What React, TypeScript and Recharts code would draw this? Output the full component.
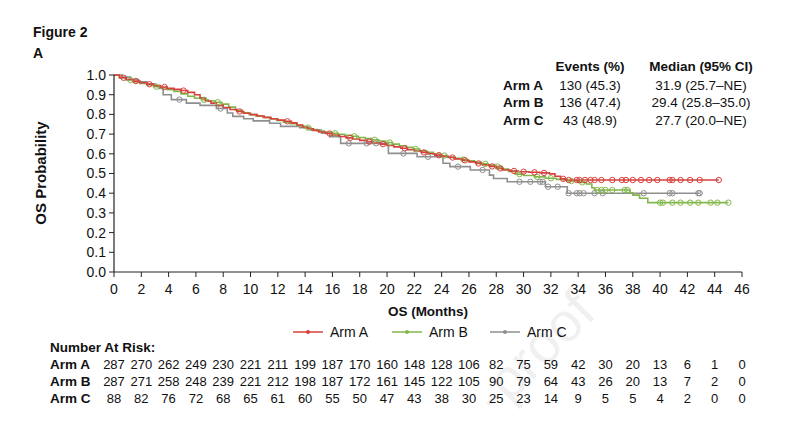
import { ComposedChart, Line, XAxis, YAxis } from "recharts";

const FONT = "'Liberation Sans', Arial, Helvetica, sans-serif";
const RED = "#d7403c";
const GREEN = "#82b74b";
const GRAY = "#8f8f8f";
const AXIS = "#222";

const xTicks = [0, 2, 4, 6, 8, 10, 12, 14, 16, 18, 20, 22, 24, 26, 28, 30, 32, 34, 36, 38, 40, 42, 44, 46];
const yTicks = [0, 0.1, 0.2, 0.3, 0.4, 0.5, 0.6, 0.7, 0.8, 0.9, 1.0];

// number at risk, one value per x tick
const riskA = [287, 270, 262, 249, 230, 221, 211, 199, 187, 170, 160, 148, 128, 106, 82, 75, 59, 42, 30, 20, 13, 6, 1, 0];
const riskB = [287, 271, 258, 248, 239, 221, 212, 198, 187, 172, 161, 145, 122, 105, 90, 79, 64, 43, 26, 20, 13, 7, 2, 0];
const riskC = [88, 82, 76, 72, 68, 65, 61, 60, 55, 50, 47, 43, 38, 30, 25, 23, 14, 9, 5, 5, 4, 2, 0, 0];

const arms = ["Arm A", "Arm B", "Arm C"];
const events = ["130 (45.3)", "136 (47.4)", "43 (48.9)"];
const medians = ["31.9 (25.7–NE)", "29.4 (25.8–35.0)", "27.7 (20.0–NE)"];

// KM steps [month, survival]
const armASteps: [number, number][] = [
  [0, 1], [0.4, 0.986], [0.9, 0.977], [1.4, 0.969], [1.9, 0.961], [2.4, 0.953], [2.9, 0.946], [3.4, 0.939],
  [3.9, 0.932], [4.4, 0.927], [4.9, 0.921], [5.4, 0.912], [5.9, 0.9], [6.3, 0.884], [6.7, 0.868], [7.1, 0.857],
  [7.5, 0.846], [8.0, 0.835], [8.5, 0.825], [9.0, 0.815], [9.5, 0.806], [10.0, 0.799], [10.5, 0.792], [11.0, 0.785],
  [11.5, 0.778], [12.0, 0.771], [12.5, 0.765], [13.0, 0.757], [13.4, 0.746], [13.8, 0.736], [14.2, 0.727], [14.6, 0.719],
  [15.0, 0.711], [15.5, 0.703], [16.0, 0.695], [16.5, 0.688], [17.0, 0.681], [17.5, 0.675], [18.0, 0.668], [18.5, 0.662],
  [19.0, 0.656], [19.5, 0.649], [20.0, 0.642], [20.5, 0.635], [21.0, 0.628], [21.5, 0.621], [22.0, 0.614], [22.5, 0.607],
  [23.0, 0.6], [23.5, 0.593], [24.0, 0.587], [24.5, 0.581], [25.0, 0.574], [25.5, 0.567], [26.0, 0.559], [26.5, 0.551],
  [27.0, 0.544], [27.5, 0.536], [28.0, 0.526], [28.5, 0.518], [29.0, 0.513], [29.6, 0.509], [30.4, 0.506], [31.2, 0.503],
  [31.9, 0.498], [32.3, 0.486], [32.7, 0.473], [33.0, 0.467],
];
const armACensor = [
  0.7, 1.6, 2.6, 3.7, 5.1, 9.2, 12.7, 15.8, 17.3, 18.7, 19.7, 21.3, 22.7, 23.8, 24.8, 25.7, 26.7, 27.7, 28.3, 29.3,
  30.0, 30.8, 31.5, 32.9, 33.3, 33.9, 34.1, 34.5, 34.9, 35.2, 35.7, 36.5, 37.2, 37.5, 38.0, 38.6, 39.2, 39.8, 40.7,
  40.9, 41.5, 42.2, 42.9, 44.3,
];

const armBSteps: [number, number][] = [
  [0, 1], [0.4, 0.986], [0.9, 0.975], [1.4, 0.965], [1.9, 0.957], [2.4, 0.949], [2.9, 0.941], [3.4, 0.934],
  [3.9, 0.926], [4.4, 0.917], [4.9, 0.904], [5.4, 0.892], [5.9, 0.882], [6.4, 0.874], [6.9, 0.868], [7.4, 0.862],
  [7.9, 0.852], [8.4, 0.837], [8.9, 0.821], [9.4, 0.808], [9.9, 0.799], [10.4, 0.791], [10.9, 0.784], [11.4, 0.777],
  [11.9, 0.769], [12.4, 0.761], [12.9, 0.753], [13.4, 0.743], [13.9, 0.733], [14.4, 0.723], [14.9, 0.715], [15.4, 0.709],
  [15.9, 0.704], [16.4, 0.699], [16.9, 0.694], [17.4, 0.689], [17.9, 0.683], [18.4, 0.677], [18.9, 0.671], [19.4, 0.665],
  [19.9, 0.657], [20.4, 0.649], [20.9, 0.641], [21.4, 0.633], [21.9, 0.624], [22.4, 0.615], [22.9, 0.607], [23.4, 0.599],
  [23.9, 0.591], [24.4, 0.584], [24.9, 0.577], [25.4, 0.571], [25.9, 0.565], [26.4, 0.557], [26.9, 0.549], [27.4, 0.541],
  [27.9, 0.535], [28.4, 0.522], [28.9, 0.511], [29.4, 0.497], [30.0, 0.49], [30.8, 0.483], [31.6, 0.476], [32.4, 0.47],
  [33.2, 0.462], [34.0, 0.455], [34.6, 0.447], [35.0, 0.428], [35.2, 0.416], [37.8, 0.402], [38.0, 0.39], [38.5, 0.374],
  [39.1, 0.352],
];
const armBCensor = [
  1.2, 3.1, 6.6, 7.6, 14.2, 16.2, 17.6, 19.1, 20.2, 22.1, 24.2, 25.6, 27.2, 28.1, 29.7, 31.0, 32.0, 33.5, 34.3,
  35.4, 35.7, 36.0, 36.5, 37.4, 37.6, 40.0, 40.2, 40.9, 41.5, 42.2, 42.8, 43.7, 44.2, 45.0,
];

const armCSteps: [number, number][] = [
  [0, 1], [0.6, 0.989], [1.2, 0.977], [1.8, 0.966], [2.4, 0.955], [3.0, 0.943], [3.3, 0.932], [3.6, 0.9],
  [4.2, 0.875], [5.3, 0.857], [6.3, 0.846], [7.5, 0.83], [8.3, 0.807], [8.7, 0.79], [9.5, 0.778], [10.2, 0.767],
  [11.4, 0.755], [12.2, 0.739], [13.6, 0.733], [14.4, 0.72], [15.2, 0.705], [15.8, 0.687], [16.6, 0.653], [20.1, 0.602],
  [22.2, 0.585], [24.1, 0.552], [24.6, 0.535], [26.1, 0.518], [27.5, 0.492], [27.8, 0.475], [28.8, 0.458], [31.6, 0.433],
  [33.2, 0.4],
];
const armCCensor = [
  4.8, 7.8, 17.2, 18.5, 19.2, 21.2, 23.0, 25.2, 27.0, 29.7, 30.5, 31.2, 31.4, 31.8, 32.5, 33.3, 33.9, 34.1, 34.4,
  35.2, 35.8, 38.8, 40.7, 40.9, 42.8, 42.9,
];

const stepAt = (steps: [number, number][], t: number) => {
  let s = steps[0][1];
  for (const [st, sv] of steps) if (st <= t) s = sv;
  return s;
};

const buildCurve = (steps: [number, number][], censor: number[]) =>
  [
    ...steps.map(([t, s]) => ({ t, s, c: false })),
    ...censor.map((t) => ({ t, s: stepAt(steps, t), c: true })),
  ].sort((a, b) => a.t - b.t);

const dataA = buildCurve(armASteps, armACensor);
const dataB = buildCurve(armBSteps, armBCensor);
const dataC = buildCurve(armCSteps, armCCensor);

const censorDot = (color: string) => (props: any) => {
  const { cx, cy, payload, index } = props;
  if (!payload?.c) return <g key={index} />;
  return <circle key={index} cx={cx} cy={cy} r={2.7} stroke={color} strokeWidth={1} fill="none" />;
};

const XTick = (props: any) => {
  const { x, y, payload } = props;
  const i = xTicks.indexOf(payload.value);
  return (
    <g fontFamily={FONT} fill="#111">
      <text x={x} y={y} dy={15} textAnchor="middle" fontSize={14}>{payload.value}</text>
      <text x={x} y={y} dy={90} textAnchor="middle" fontSize={13}>{riskA[i]}</text>
      <text x={x} y={y} dy={107} textAnchor="middle" fontSize={13}>{riskB[i]}</text>
      <text x={x} y={y} dy={124} textAnchor="middle" fontSize={13}>{riskC[i]}</text>
    </g>
  );
};

const legendItems = [
  { name: "Arm A", color: RED, x: 293 },
  { name: "Arm B", color: GREEN, x: 392 },
  { name: "Arm C", color: GRAY, x: 490 },
];

export default function App() {
  return (
    <div style={{ position: "fixed", left: 0, top: 0, width: 800, height: 439, background: "#fff" }}>
      {/* faint watermark, only the visible part */}
      <svg width={800} height={439} style={{ position: "absolute", left: 0, top: 0 }} fontFamily={FONT}>
        <text x={598} y={315} fontSize={55} fill="#f0f0f0" textAnchor="end" transform="rotate(-45 598 315)">-proof</text>
      </svg>

      <div style={{ position: "absolute", left: 0, top: 0 }}>
        <ComposedChart width={800} height={439} margin={{ top: 75, right: 58, bottom: 137, left: 74 }}>
          <XAxis
            type="number"
            dataKey="t"
            domain={[0, 46]}
            ticks={xTicks}
            interval={0}
            height={30}
            tickSize={5}
            tickMargin={2}
            axisLine={{ stroke: AXIS, strokeWidth: 1.2 }}
            tickLine={{ stroke: AXIS }}
            tick={(p: any) => <XTick {...p} />}
          />
          <YAxis
            type="number"
            domain={[0, 1]}
            ticks={yTicks}
            interval={0}
            width={40}
            tickSize={5}
            tickMargin={3}
            axisLine={{ stroke: AXIS, strokeWidth: 1.2 }}
            tickLine={{ stroke: AXIS }}
            tickFormatter={(v: number) => v.toFixed(1)}
            tick={{ fontSize: 14, fill: "#111", fontFamily: FONT }}
          />
          <Line data={dataC} dataKey="s" type="stepAfter" stroke={GRAY} strokeWidth={1.6} dot={censorDot(GRAY)} activeDot={false} isAnimationActive={false} />
          <Line data={dataB} dataKey="s" type="stepAfter" stroke={GREEN} strokeWidth={1.6} dot={censorDot(GREEN)} activeDot={false} isAnimationActive={false} />
          <Line data={dataA} dataKey="s" type="stepAfter" stroke={RED} strokeWidth={1.6} dot={censorDot(RED)} activeDot={false} isAnimationActive={false} />
        </ComposedChart>
      </div>

      <svg width={800} height={439} style={{ position: "absolute", left: 0, top: 0, pointerEvents: "none" }} fontFamily={FONT} fill="#111">
        <text x={33} y={32} fontSize={14} fontWeight="bold" dominantBaseline="central">Figure 2</text>
        <text x={33} y={53} fontSize={14} fontWeight="bold" dominantBaseline="central">A</text>

        <text x={590} y={66} fontSize={13.5} fontWeight="bold" textAnchor="middle" dominantBaseline="central">Events (%)</text>
        <text x={701} y={66} fontSize={13.5} fontWeight="bold" textAnchor="middle" dominantBaseline="central">Median (95% CI)</text>
        {arms.map((a, i) => (
          <g key={a}>
            <text x={503} y={85.5 + i * 17.3} fontSize={13.5} fontWeight="bold" dominantBaseline="central">{a}</text>
            <text x={590} y={85.5 + i * 17.3} fontSize={13.5} textAnchor="middle" dominantBaseline="central">{events[i]}</text>
            <text x={701} y={85.5 + i * 17.3} fontSize={13.5} textAnchor="middle" dominantBaseline="central">{medians[i]}</text>
          </g>
        ))}

        <text x={40} y={173} fontSize={15} fontWeight="bold" textAnchor="middle" dominantBaseline="central" transform="rotate(-90 40 173)">OS Probability</text>
        <text x={428} y={311} fontSize={13.5} fontWeight="bold" textAnchor="middle" dominantBaseline="central">OS (Months)</text>

        {legendItems.map((l) => (
          <g key={l.name}>
            <line x1={l.x} x2={l.x + 30} y1={332} y2={332} stroke={l.color} strokeWidth={1.5} />
            <circle cx={l.x + 15} cy={332} r={2} fill={l.color} />
            <text x={l.x + 37} y={332} fontSize={14} dominantBaseline="central">{l.name}</text>
          </g>
        ))}

        <text x={50} y={347} fontSize={13.5} fontWeight="bold" dominantBaseline="central">Number At Risk:</text>
        {arms.map((a, i) => (
          <text key={a} x={50} y={364.5 + i * 17} fontSize={13.5} fontWeight="bold" dominantBaseline="central">{a}</text>
        ))}
      </svg>
    </div>
  );
}
